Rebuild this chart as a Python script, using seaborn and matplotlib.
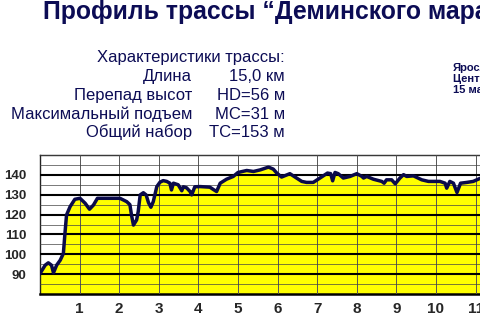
import matplotlib
matplotlib.use("Agg")
import matplotlib.pyplot as plt
import seaborn as sns
import pandas as pd
from matplotlib.ticker import MultipleLocator

# Track profile: distance (km) and elevation (m)
km = [0, 0.13, 0.21, 0.29, 0.34, 0.42, 0.51, 0.59, 0.63, 0.67, 0.76, 0.88,
      1.01, 1.14, 1.25, 1.35, 1.45, 1.60, 2.02, 2.19, 2.27, 2.31, 2.36, 2.44,
      2.48, 2.53, 2.61, 2.68, 2.74, 2.80, 2.86, 2.95, 3.03, 3.11, 3.20, 3.28,
      3.32, 3.37, 3.49, 3.58, 3.62, 3.70, 3.79, 3.83, 3.91, 4.04, 4.29, 4.38,
      4.46, 4.55, 4.71, 4.88, 5.00, 5.22, 5.39, 5.56, 5.77, 5.89, 5.98, 6.10,
      6.31, 6.44, 6.61, 6.73, 6.90, 7.07, 7.26, 7.34, 7.39, 7.45, 7.53, 7.66,
      7.83, 8.00, 8.13, 8.17, 8.25, 8.42, 8.63, 8.69, 8.75, 8.88, 8.97, 9.09,
      9.18, 9.26, 9.43, 9.64, 9.81, 10.10, 10.23, 10.27, 10.35, 10.44, 10.53,
      10.62, 10.78, 10.94, 11.11, 11.25]
elevation = [90.3, 94.5, 95.7, 94.5, 90.7, 94.5, 97, 100.4, 110.5, 119.8, 124, 127.7,
             128.2, 125.7, 122.7, 124.8, 128.2, 128.2, 128.2, 126.5, 125, 119.8, 114.7, 117.3,
             121.5, 129.9, 131, 129.9, 126, 123.7, 126.5, 134.1, 136.3, 137.1, 136.7, 135.8,
             132.4, 135.8, 135, 132, 134, 133.5, 131.6, 129.9, 134, 134.1, 133.8, 132.6,
             131.6, 135.8, 137.8, 139.2, 141.2, 142.2, 141.7, 142.5, 143.9, 142.9, 140.9, 138.9,
             140.6, 138.9, 136.7, 136.2, 136.2, 138.4, 140.9, 140.6, 137, 141.2, 140.6, 138.4,
             139.2, 140.6, 139.2, 138.4, 139.2, 137.8, 136.7, 135.8, 137.5, 137.5, 135.5, 138.4,
             140.1, 139.2, 139.5, 137.5, 136.7, 136.7, 135.8, 133.3, 136.7, 135.8, 131.1,
             135.8, 136.2, 136.7, 138.2, 138.8]

x_ticks = list(range(1, 16))
y_ticks = [90, 100, 110, 120, 130, 140]

title = "Профиль трассы “Деминского марафона”"
stat_labels = ["Длина", "Перепад высот", "Максимальный подъем", "Общий набор"]
stat_values = ["15,0 км", "HD=56 м", "MC=31 м", "TC=153 м"]
place_lines = ["Ярославль", "Центральный стадион", "15 мая"]

df = pd.DataFrame({"km": km, "elev": elevation})

sns.set_style("white")
plt.rcParams["font.family"] = ["Liberation Sans", "DejaVu Sans"]

navy = "#0c0c55"
W, H = 480, 320
fig = plt.figure(figsize=(4.8, 3.2), dpi=100)

# axes run past the right edge, as in the cropped original
ax = fig.add_axes([40 / W, (H - 294) / H, 594 / W, 139 / H])

ax.fill_between(df["km"], 80, df["elev"], color="#ffff00", zorder=0.5, linewidth=0)
sns.lineplot(data=df, x="km", y="elev", ax=ax, color="#0a0a4a", linewidth=2.5, zorder=3)

ax.set_xlim(0, 15)
ax.set_ylim(80, 150)
ax.set_xticks(x_ticks)
ax.set_yticks(y_ticks)
ax.yaxis.set_minor_locator(MultipleLocator(5))
ax.set_axisbelow(False)
ax.grid(axis="y", which="major", color="black", linewidth=1.5)
ax.grid(axis="y", which="minor", color="#444444", linewidth=0.5)
ax.grid(axis="x", which="major", color="#555555", linewidth=0.7)
ax.tick_params(axis="both", which="both", length=0)
ax.tick_params(axis="x", pad=6)
ax.tick_params(axis="y", pad=10)
for lab in ax.get_xticklabels():
    lab.set_fontsize(11)
    lab.set_fontweight("bold")
for lab in ax.get_yticklabels():
    lab.set_fontsize(9.5)
    lab.set_fontweight("bold")
ax.set_xlabel("")
ax.set_ylabel("")
for side in ["top", "left"]:
    ax.spines[side].set_color("#222222")
    ax.spines[side].set_linewidth(1.0)
ax.spines["bottom"].set_color("black")
ax.spines["bottom"].set_linewidth(1.8)

# title and text blocks (pixel positions converted to figure fractions)
fig.text(43 / W, 1 - 19.5 / H, title, fontsize=17.8, fontweight="bold",
         color=navy, ha="left", va="baseline")
fig.text(285 / W, 1 - 62 / H, "Характеристики трассы:", fontsize=12,
         color=navy, ha="right", va="baseline")
for i, (lab, val) in enumerate(zip(stat_labels, stat_values)):
    yb = 81 + i * 18.8
    fig.text(192 / W, 1 - yb / H, lab, fontsize=12, color=navy,
             ha="right", va="baseline")
    fig.text(285 / W, 1 - yb / H, val, fontsize=12, color=navy,
             ha="right", va="baseline")
for i, line in enumerate(place_lines):
    fig.text(453 / W, 1 - (71 + i * 11) / H, line, fontsize=8,
             fontweight="bold", color=navy, ha="left", va="baseline")

fig.savefig("out.png", dpi=100)
